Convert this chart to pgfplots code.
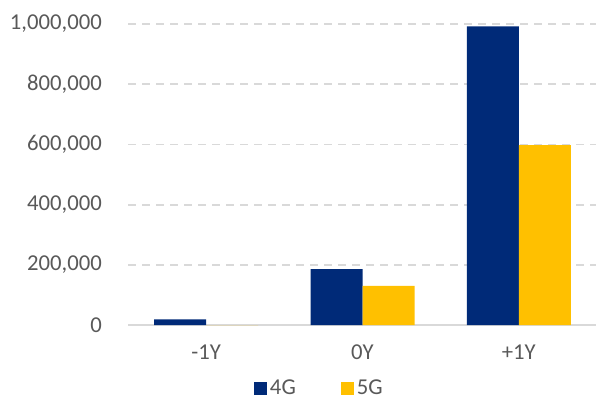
\documentclass[border=0pt]{standalone}
\usepackage{fontspec}
\setmainfont{Carlito}
\usepackage{pgfplots}
\pgfplotsset{compat=1.18}
\definecolor{navy4g}{HTML}{002A78}
\definecolor{gold5g}{HTML}{FFC000}
\definecolor{gridgray}{HTML}{D9D9D9}
\definecolor{tickgray}{HTML}{595959}
\begin{document}
\begin{tikzpicture}[x=1bp,y=1bp]
\useasboundingbox (0,0) rectangle (596,405);
\begin{axis}[
  at={(128bp,80bp)}, anchor=south west,
  scale only axis, width=469bp, height=301bp,
  xmin=-0.5, xmax=2.5, ymin=0, ymax=1000000,
  xtick={0,1,2}, xticklabels={-1Y,0Y,+1Y},
  ytick={0,200000,400000,600000,800000,1000000},
  yticklabels={0,{200,000},{400,000},{600,000},{800,000},{1,000,000}},
  scaled y ticks=false,
  axis lines*=left,
  y axis line style={draw=none},
  x axis line style={draw=gridgray, line width=2bp},
  major tick length=0pt,
  ymajorgrids,
  grid style={draw=gridgray, line width=1.8bp, dash pattern=on 8bp off 6bp},
  tick label style={font=\fontsize{22.7bp}{27bp}\selectfont, text=tickgray},
  yticklabel style={anchor=east, inner sep=0pt, xshift=-26bp},
  xticklabel style={anchor=north, inner sep=0pt, yshift=-20bp},
  ybar=0pt, bar width=52bp,
  legend columns=2,
  legend style={at={(0.409,-0.21)}, anchor=center, draw=none, fill=none,
    font=\fontsize{22.7bp}{27bp}\selectfont, text=tickgray,
    /tikz/every even column/.append style={column sep=42bp},
    nodes={inner sep=3bp}},
  legend image code/.code={\fill[#1] (0bp,-6.5bp) rectangle (13bp,6.5bp);},
]
\addplot[fill=navy4g, draw=none] coordinates {(0,19000) (1,186000) (2,992000)};
\addplot[fill=gold5g, draw=none] coordinates {(0,0) (1,130000) (2,598000)};
\legend{4G,5G}
\end{axis}
\end{tikzpicture}
\end{document}
